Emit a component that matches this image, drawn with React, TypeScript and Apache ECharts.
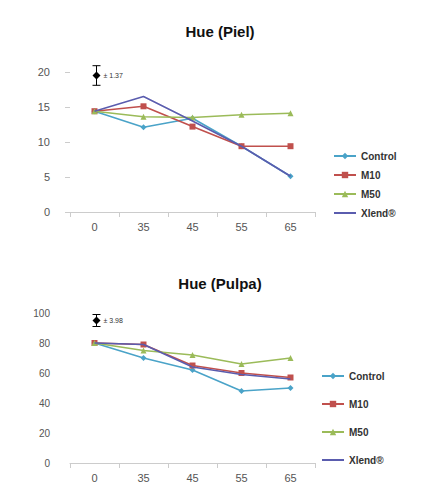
import React, { useEffect, useRef } from "react";
import * as echarts from "echarts";

const categories = ["0", "35", "45", "55", "65"];
const seriesNames = ["Control", "M10", "M50", "Xlend®"];
const colors = ["#4aa3c8", "#c0504d", "#9bbb59", "#5a5cae"];
const symbols = ["diamond", "rect", "triangle", "none"];

const pielControl = [14.4, 12.1, 13.4, 9.4, 5.1];
const pielM10 = [14.4, 15.1, 12.2, 9.4, 9.4];
const pielM50 = [14.4, 13.6, 13.5, 13.9, 14.1];
const pielXlend = [14.4, 16.5, 13.0, 9.4, 5.1];

const pulpaControl = [80, 70, 62, 48, 50];
const pulpaM10 = [80, 79, 65, 60, 57];
const pulpaM50 = [80, 75, 72, 66, 70];
const pulpaXlend = [80, 79, 64, 59, 56];

const pielError = { center: 19.5, half: 1.4, label: "± 1.37" };
const pulpaError = { center: 95, half: 4, label: "± 3.98" };

export default function App() {
  const ref = useRef<HTMLDivElement>(null);
  useEffect(() => {
    if (!ref.current) return;
    const chart = echarts.init(ref.current, undefined, { renderer: "svg" });
    const pielData = [pielControl, pielM10, pielM50, pielXlend];
    const pulpaData = [pulpaControl, pulpaM10, pulpaM50, pulpaXlend];

    const mkLine = (data: number[][], idx: number) =>
      seriesNames.map((name, i) => ({
        name,
        type: "line",
        xAxisIndex: idx,
        yAxisIndex: idx,
        data: data[i],
        symbol: symbols[i],
        symbolSize: 6,
        showSymbol: symbols[i] !== "none",
        lineStyle: { width: 1.6, color: colors[i] },
        itemStyle: { color: colors[i] },
        z: 3 + i,
      }));

    const mkErr = (err: { center: number; half: number; label: string }, idx: number) => ({
      type: "custom",
      xAxisIndex: idx,
      yAxisIndex: idx,
      data: [[0, err.center]],
      z: 10,
      renderItem: (params: any, api: any) => {
        const top = api.coord([0, err.center + err.half]);
        const bot = api.coord([0, err.center - err.half]);
        const c = api.coord([0, err.center]);
        const x = c[0] + 2;
        return {
          type: "group",
          children: [
            { type: "line", shape: { x1: x, y1: top[1], x2: x, y2: bot[1] }, style: { stroke: "#000", lineWidth: 1 } },
            { type: "line", shape: { x1: x - 4, y1: top[1], x2: x + 4, y2: top[1] }, style: { stroke: "#000", lineWidth: 1 } },
            { type: "line", shape: { x1: x - 4, y1: bot[1], x2: x + 4, y2: bot[1] }, style: { stroke: "#000", lineWidth: 1 } },
            { type: "polygon", shape: { points: [[x, c[1] - 4], [x + 4, c[1]], [x, c[1] + 4], [x - 4, c[1]]] }, style: { fill: "#000" } },
            { type: "text", x: x + 7, y: c[1], style: { text: err.label, fill: "#333", fontSize: 7, fontFamily: "Liberation Sans", verticalAlign: "middle" } },
          ],
        };
      },
    });

    const axisLabel = { color: "#555", fontSize: 11, fontFamily: "Liberation Sans" };
    const legendData = seriesNames.map((name, i) =>
      symbols[i] === "none" ? { name, itemStyle: { opacity: 0 } } : { name }
    );

    chart.setOption({
      animation: false,
      backgroundColor: "#fff",
      title: [
        { text: "Hue (Piel)", left: 215, top: 19, textAlign: "center", textStyle: { fontSize: 15, fontWeight: "bold", color: "#111", fontFamily: "Liberation Sans" } },
        { text: "Hue (Pulpa)", left: 215, top: 271, textAlign: "center", textStyle: { fontSize: 15, fontWeight: "bold", color: "#111", fontFamily: "Liberation Sans" } },
      ],
      legend: [
        {
          data: legendData,
          orient: "vertical",
          left: 328,
          top: 146,
          itemGap: 9,
          itemWidth: 22,
          itemHeight: 8,
          textStyle: { fontSize: 10, fontWeight: "bold", color: "#333", fontFamily: "Liberation Sans" },
        },
        {
          data: legendData,
          orient: "vertical",
          left: 316,
          top: 366,
          itemGap: 18,
          itemWidth: 22,
          itemHeight: 8,
          textStyle: { fontSize: 10, fontWeight: "bold", color: "#333", fontFamily: "Liberation Sans" },
        },
      ],
      grid: [
        { left: 70, right: 107, top: 72, bottom: 279 },
        { left: 70, right: 107, top: 313, bottom: 28 },
      ],
      xAxis: [0, 1].map((i) => ({
        type: "category",
        gridIndex: i,
        data: categories,
        axisLine: { lineStyle: { color: "#ccc" } },
        axisTick: { show: true, lineStyle: { color: "#ccc" } },
        axisLabel: { ...axisLabel, margin: 9 },
      })),
      yAxis: [
        { type: "value", gridIndex: 0, min: 0, max: 20, interval: 5, splitLine: { show: false }, axisLine: { show: false }, axisTick: { show: true, lineStyle: { color: "#ccc" } }, axisLabel: { ...axisLabel, margin: 20 } },
        { type: "value", gridIndex: 1, min: 0, max: 100, interval: 20, splitLine: { show: false }, axisLine: { show: false }, axisTick: { show: false }, axisLabel: { ...axisLabel, fontSize: 10, margin: 20 } },
      ],
      series: [
        ...mkLine(pielData, 0),
        ...mkLine(pulpaData, 1),
        mkErr(pielError, 0),
        mkErr(pulpaError, 1),
      ],
    });
    return () => chart.dispose();
  }, []);
  return <div ref={ref} style={{ width: 422, height: 491, position: "absolute", left: 0, top: 0 }} />;
}
